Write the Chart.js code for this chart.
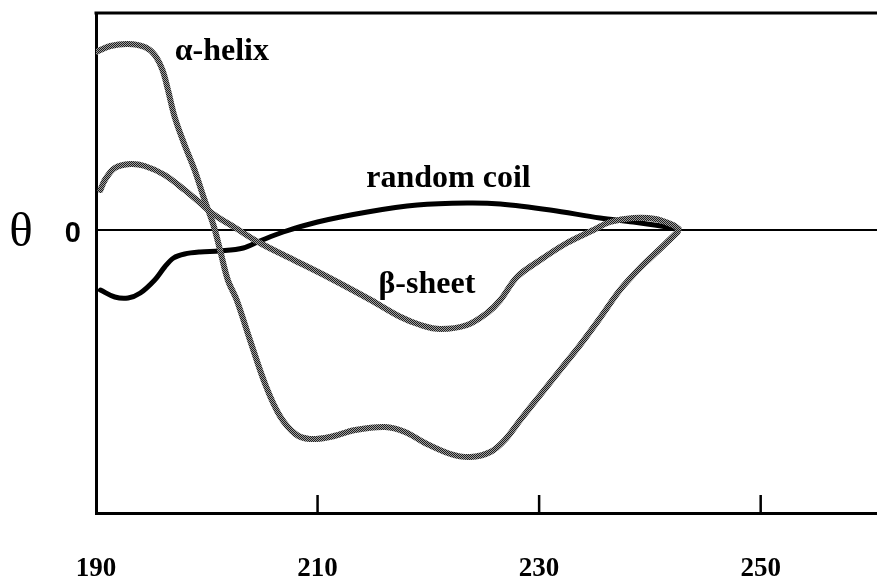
<!DOCTYPE html>
<html>
<head>
<meta charset="utf-8">
<style>
  html, body { margin: 0; padding: 0; background: #fff; }
  canvas { display: block; }
</style>
<script src="https://cdn.jsdelivr.net/npm/chart.js@4/dist/chart.umd.min.js"></script>
</head>
<body>
<canvas id="cd" width="877" height="584"></canvas>
<script>
// Far-UV circular dichroism spectra of the three backbone conformations.
// Wavelength in nm, ellipticity θ in relative units.
const helixNm = [190.0, 191.3, 192.9, 194.4, 195.3, 196.0, 196.5, 197.1, 198.0, 198.9, 199.8, 200.6, 201.2, 201.9, 202.7, 203.9, 205.3, 206.6, 208.0, 209.3, 211.1, 213.4, 216.1, 217.9, 219.7, 222.0, 223.8, 225.6, 226.9, 228.3, 230.1, 231.9, 233.7, 235.5, 237.3, 239.1, 241.0, 242.5];
const helixTheta = [35.6, 36.8, 37.2, 36.6, 35.0, 32.0, 28.0, 22.6, 17.0, 12.0, 6.0, 1.0, -4.0, -10.0, -14.0, -22.0, -31.0, -37.2, -40.8, -41.8, -41.4, -40.0, -39.4, -40.4, -42.6, -44.8, -45.4, -44.4, -42.0, -38.0, -33.0, -28.0, -23.0, -17.6, -12.0, -7.6, -3.6, -0.4];

const sheetNm = [190.4, 190.8, 191.7, 193.1, 194.4, 196.2, 198.0, 199.4, 200.7, 202.6, 204.8, 207.5, 211.1, 214.8, 217.5, 219.3, 221.1, 223.5, 225.3, 226.5, 228.0, 230.1, 232.5, 234.9, 236.4, 238.5, 240.5, 242.1, 242.6];
const sheetTheta = [8.0, 10.0, 12.4, 13.2, 12.8, 11.0, 8.0, 5.4, 3.0, 0.4, -2.6, -5.6, -9.6, -14.0, -17.4, -19.0, -19.8, -19.0, -16.6, -14.0, -9.4, -6.0, -2.6, 0.0, 1.6, 2.4, 2.2, 1.0, 0.2];

const coilNm = [190.4, 191.7, 192.9, 194.0, 195.3, 196.2, 197.0, 198.0, 199.4, 201.2, 203.3, 204.8, 206.9, 210.0, 214.5, 219.0, 223.5, 226.5, 231.0, 235.5, 238.5, 242.1, 242.6];
const coilTheta = [-12.0, -13.4, -13.6, -12.6, -10.0, -7.4, -5.6, -4.8, -4.4, -4.2, -3.6, -2.2, -0.4, 1.6, 3.6, 5.0, 5.4, 5.2, 4.0, 2.4, 1.6, 0.4, 0.0];

const xTickValues = [190, 210, 230, 250];
const xTickLabels = ['190', '210', '230', '250'];
const yTickValues = [0];
const yTickLabels = ['0'];

// Curve names, placed next to each curve (position in nm / θ units).
const curveLabels = [
  { text: 'α-helix',     nm: 197.1, theta: 34.0 },
  { text: 'random coil', nm: 214.4, theta: 8.6 },
  { text: 'β-sheet',     nm: 215.5, theta: -12.6 }
];

const toPoints = (xs, ys) => xs.map((x, i) => ({ x: x, y: ys[i] }));

// Speckled grey ink used for the helix and sheet traces.
function speckle() {
  const c = document.createElement('canvas');
  c.width = 2; c.height = 2;
  const g = c.getContext('2d');
  g.fillStyle = '#a0a0a0'; g.fillRect(0, 0, 2, 2);
  g.fillStyle = '#1e1e1e'; g.fillRect(0, 0, 1, 1); g.fillRect(1, 1, 1, 1);
  return g.createPattern(c, 'repeat');
}

const ctx = document.getElementById('cd').getContext('2d');
const grey = speckle();

const decorations = {
  id: 'decorations',
  afterDraw(chart) {
    const g = chart.ctx;
    const a = chart.chartArea;
    const xs = chart.scales.x, ys = chart.scales.y;
    g.save();
    // top frame line
    g.strokeStyle = '#000';
    g.lineWidth = 3;
    g.beginPath();
    g.moveTo(a.left - 1.5, a.top);
    g.lineTo(a.right, a.top);
    g.stroke();
    // inward tick marks on the wavelength axis
    g.lineWidth = 2.5;
    xs.ticks.forEach(t => {
      if (t.value <= xs.min) return;
      const px = xs.getPixelForValue(t.value);
      g.beginPath();
      g.moveTo(px, a.bottom - 18);
      g.lineTo(px, a.bottom);
      g.stroke();
    });
    // θ axis symbol beside the zero tick
    g.fillStyle = '#000';
    g.font = '49px "Liberation Serif"';
    g.textAlign = 'center';
    g.textBaseline = 'middle';
    g.fillText('θ', 21, ys.getPixelForValue(0) + 3);
    // curve names
    g.font = 'bold 32px "Liberation Serif"';
    g.textAlign = 'left';
    g.textBaseline = 'alphabetic';
    curveLabels.forEach(l => {
      g.fillText(l.text, xs.getPixelForValue(l.nm), ys.getPixelForValue(l.theta));
    });
    g.restore();
  }
};

Chart.defaults.color = '#000';

new Chart(ctx, {
  type: 'line',
  data: {
    datasets: [
      { label: 'α-helix', data: toPoints(helixNm, helixTheta), borderColor: grey, borderWidth: 6 },
      { label: 'β-sheet', data: toPoints(sheetNm, sheetTheta), borderColor: grey, borderWidth: 6 },
      { label: 'random coil', data: toPoints(coilNm, coilTheta), borderColor: '#000', borderWidth: 5 }
    ]
  },
  options: {
    responsive: false,
    animation: false,
    events: [],
    layout: { padding: { top: 13, right: 0, bottom: 0, left: 0 } },
    elements: {
      point: { radius: 0 },
      line: { tension: 0.35, fill: false, borderCapStyle: 'round', borderJoinStyle: 'round' }
    },
    plugins: { legend: { display: false }, tooltip: { enabled: false } },
    scales: {
      x: {
        type: 'linear',
        min: 190,
        max: 260.5,
        afterBuildTicks: s => { s.ticks = xTickValues.map(v => ({ value: v })); },
        afterFit: s => { s.height = 71; s.paddingLeft = 0; s.paddingRight = 0; },
        ticks: {
          autoSkip: false,
          maxRotation: 0,
          padding: 40,
          font: { family: '"Liberation Serif"', weight: 'bold', size: 27 },
          callback: (v, i) => xTickLabels[i]
        },
        grid: { display: false, drawTicks: false },
        border: { display: true, color: '#000', width: 3 }
      },
      y: {
        type: 'linear',
        min: -56.6,
        max: 43.4,
        afterBuildTicks: s => { s.ticks = yTickValues.map(v => ({ value: v })); },
        afterFit: s => { s.width = 96; s.paddingTop = 0; s.paddingBottom = 0; },
        ticks: {
          padding: 15,
          labelOffset: 4,
          font: { family: '"Liberation Sans"', weight: 'bold', size: 29 },
          callback: (v, i) => yTickLabels[i]
        },
        grid: {
          drawTicks: false,
          color: c => (c.tick && c.tick.value === 0 ? '#000' : 'rgba(0,0,0,0)'),
          lineWidth: 2
        },
        border: { display: true, color: '#000', width: 3 }
      }
    }
  },
  plugins: [decorations]
});
</script>
</body>
</html>
